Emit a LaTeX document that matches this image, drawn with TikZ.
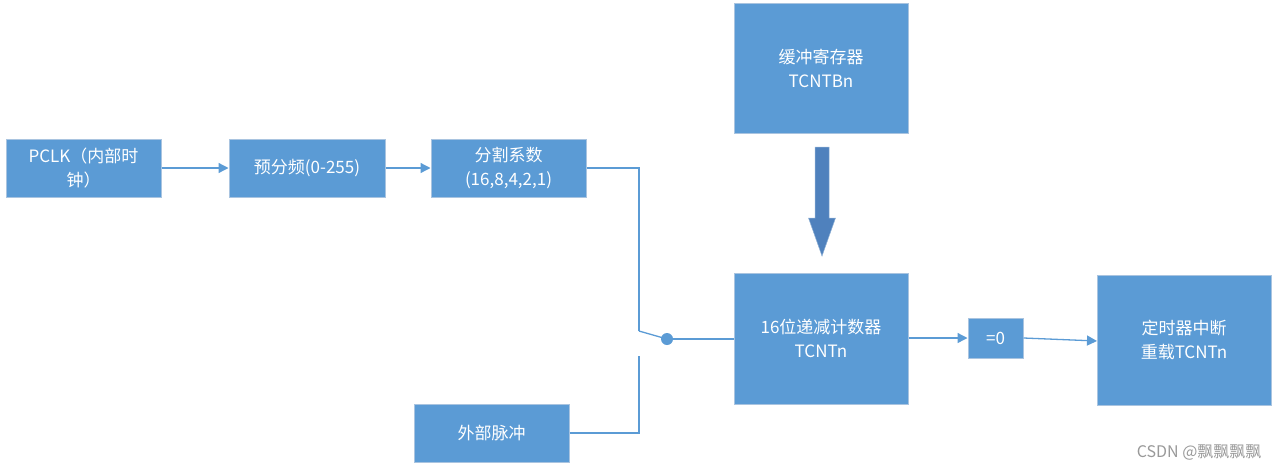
\documentclass[tikz,border=0pt]{standalone}
\usepackage{fontspec}
\setmainfont{Noto Sans CJK SC}
\usetikzlibrary{arrows.meta}
\definecolor{boxfill}{HTML}{5B9BD5}
\definecolor{boxedge}{HTML}{A9C4E0}
\definecolor{linec}{HTML}{5B9BD5}
\definecolor{bigarrow}{HTML}{4F81BD}
\tikzset{
  blk/.style={draw=boxedge, line width=1pt, fill=boxfill, text=white, align=center,
    font=\fontsize{17}{24}\selectfont, inner sep=0pt},
  conn/.style={draw=linec, line width=1.3pt},
  arr/.style={conn, -{Triangle[length=10pt,width=10pt]}},
}
\newcommand{\blkat}[6]{\node[blk, minimum width=#3-#1, minimum height=#4-#2] (#5) at ({(#1+#3)/2},{(#2+#4)/2}) {#6};}
\begin{document}
\begin{tikzpicture}[x=1pt,y=-1pt]
\useasboundingbox (0,0) rectangle (1279,472);
\blkat{6}{139}{161}{197}{pclk}{PCLK（内部时\\钟）}
\blkat{229}{139}{385}{197}{pre}{预分频(0-255)}
\blkat{431}{139}{586}{197}{div}{分割系数\\(16,8,4,2,1)}
\blkat{734}{3}{908}{133}{buf}{缓冲寄存器\\TCNTBn}
\blkat{734}{273}{908}{404}{cnt}{16位递减计数器\\TCNTn}
\blkat{968}{318}{1023}{358}{zero}{=0}
\blkat{1097}{275}{1271}{405}{irq}{定时器中断\\重载TCNTn}
\blkat{414}{404}{569}{462}{ext}{外部脉冲}
\coordinate (sw1) at (639,331);
\coordinate (sw2) at (639,356);
\node[circle, fill=linec, minimum size=12pt, inner sep=0pt] (dot) at (667,339) {};
\draw[arr] (pclk.east) -- (pre.west);
\draw[arr] (pre.east) -- (div.west);
\draw[conn] (div.east) -| (sw1);
\draw[conn] (sw1) -- (dot.center);
\draw[conn] (dot.east) -- (dot.east -| cnt.west);
\draw[conn] (ext.east) -| (sw2);
\draw[arr] (cnt.east |- zero.west) -- (zero.west);
\draw[arr] (zero.east) -- (1097,341);
\fill[bigarrow, draw=boxedge!70!bigarrow, line width=0.5pt]
  (815,147) -- (829,147) -- (829,218) -- (835.5,218) -- (822,256) -- (808.5,218) -- (815,218) -- cycle;
\node[text=gray!80, font=\fontsize{16}{18}\selectfont, anchor=east] (wm) at (1265,453) {CSDN @飘飘飘飘};
\end{tikzpicture}
\end{document}
